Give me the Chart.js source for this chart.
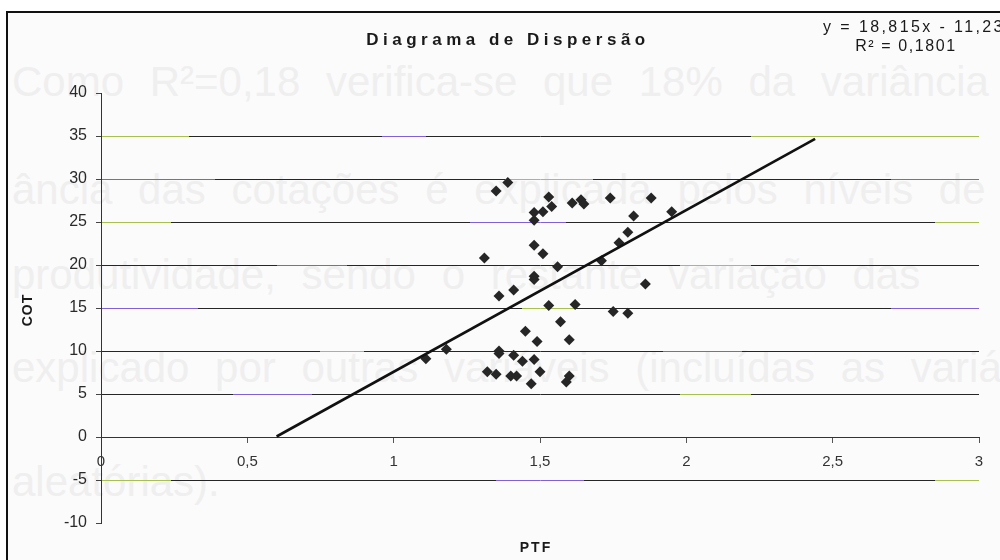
<!DOCTYPE html>
<html>
<head>
<meta charset="utf-8">
<script src="https://cdn.jsdelivr.net/npm/chart.js@4.4.1/dist/chart.umd.min.js"></script>
<style>
  html, body { margin: 0; padding: 0; background: #fff; }
  #wrap { position: relative; width: 1000px; height: 560px; overflow: hidden; }
  #frame { position: absolute; left: 6px; top: 11px; width: 1100px; height: 700px;
           border: 2px solid #111; background: #fbfbfb; }
  .ghost { position: absolute; left: 12px; font: 42px "Liberation Sans", Arial, sans-serif; color: #efefef;
           line-height: 42px; white-space: nowrap; word-spacing: 14px; }
  #chart { position: absolute; left: 0; top: 0; }
</style>
</head>
<body>
<div id="wrap">
  <div id="frame"></div>
  <div class="ghost" style="top:61px">Como R²=0,18 verifica-se que 18% da variância</div>
  <div class="ghost" style="top:169px">ância das cotações é explicada pelos níveis de</div>
  <div class="ghost" style="top:254px">produtividade, sendo o restante variação das</div>
  <div class="ghost" style="top:347px">explicado por outras variáveis (incluídas as variáveis</div>
  <div class="ghost" style="top:461px">aleatórias).</div>
  <canvas id="chart" width="1000" height="560"></canvas>
</div>
<script>
// PTF (x) and COT (y)
var ptf = [1.39, 1.35, 1.53, 1.61, 1.64, 1.65, 1.74, 1.88, 1.54, 1.51,
           1.48, 1.48, 1.82, 1.95, 1.80, 1.77, 1.48, 1.51, 1.31, 1.71,
           1.56, 1.48, 1.48, 1.86, 1.41, 1.36, 1.53, 1.62, 1.75, 1.80,
           1.57, 1.45, 1.49, 1.60, 1.18, 1.11, 1.36, 1.36, 1.41, 1.44,
           1.48, 1.32, 1.35, 1.40, 1.42, 1.50, 1.47, 1.60, 1.59];
var cot = [29.6, 28.6, 27.9, 27.2, 27.6, 27.1, 27.8, 27.8, 26.8, 26.2,
           26.1, 25.2, 25.7, 26.2, 23.8, 22.6, 22.3, 21.3, 20.8, 20.5,
           19.8, 18.7, 18.3, 17.8, 17.1, 16.4, 15.3, 15.4, 14.6, 14.4,
           13.4, 12.3, 11.1, 11.3, 10.2, 9.1, 10.0, 9.7, 9.5, 8.8,
           9.0, 7.6, 7.3, 7.1, 7.1, 7.6, 6.2, 7.1, 6.4];

// linear trend line as printed on the chart
var slope = 18.815;
var intercept = -11.23;
var trendX = [0.6, 2.44];

var xTickLabels = ['0', '0,5', '1', '1,5', '2', '2,5', '3'];
var yTickLabels = ['-10', '-5', '0', '5', '10', '15', '20', '25', '30', '35', '40'];

var FONT = '"Liberation Sans", Arial, sans-serif';

// scanned grid lines: black with short colour streaks [from, to, colour]
var BK = '#262626', PU = '#8060d8', GR = '#a8c050';
var gridStreaks = {
  '35': [[0, 0.1, GR], [0.32, 0.37, PU], [0.74, 1, GR]],
  '30': [[0, 0.13, PU], [0.46, 0.56, GR], [0.9, 1, PU]],
  '25': [[0, 0.08, GR], [0.42, 0.53, PU], [0.95, 1, GR]],
  '20': [[0.2, 0.28, PU], [0.66, 0.74, GR]],
  '15': [[0, 0.11, PU], [0.48, 0.54, GR], [0.9, 1, PU]],
  '10': [[0.25, 0.3, GR], [0.64, 0.73, PU]],
  '5':  [[0.15, 0.24, PU], [0.66, 0.74, GR]],
  '0':  [[0, 0.12, PU], [0.46, 0.6, GR]],
  '-5': [[0, 0.08, GR], [0.45, 0.55, PU], [0.95, 1, GR]]
};

function gridColor(ctx) {
  if (!ctx.tick) return BK;
  var streaks = gridStreaks[String(ctx.tick.value)];
  if (!streaks) return 'rgba(0,0,0,0)';
  var g = ctx.chart.ctx.createLinearGradient(101, 0, 979, 0);
  g.addColorStop(0, BK);
  streaks.forEach(function (s) {
    g.addColorStop(s[0], BK); g.addColorStop(s[0], s[2]);
    g.addColorStop(s[1], s[2]); g.addColorStop(s[1], BK);
  });
  g.addColorStop(1, BK);
  return g;
}

var points = ptf.map(function (x, i) { return { x: x, y: cot[i] }; });
var trend = trendX.map(function (x) { return { x: x, y: slope * x + intercept }; });

var overlay = {
  id: 'overlay',
  afterDraw: function (chart) {
    var c = chart.ctx;
    c.save();
    c.fillStyle = '#1a1a1a';
    c.textBaseline = 'middle';
    c.textAlign = 'center';

    c.letterSpacing = '4.5px';
    c.font = 'bold 17px ' + FONT;
    c.fillText('Diagrama de Dispersão', 508, 40);

    c.letterSpacing = '2.4px';
    c.font = '16px ' + FONT;
    c.fillText('y = 18,815x - 11,23', 914, 28);
    c.letterSpacing = '1.6px';
    c.fillText('R² = 0,1801', 906, 47);

    c.letterSpacing = '2px';
    c.font = 'bold 14px ' + FONT;
    c.fillText('PTF', 536, 548);

    c.letterSpacing = '1px';
    c.translate(28, 310);
    c.rotate(-Math.PI / 2);
    c.fillText('COT', 0, 0);
    c.restore();
  }
};

new Chart(document.getElementById('chart').getContext('2d'), {
  data: {
    datasets: [{
      type: 'line',
      label: 'Tendência',
      data: trend,
      borderColor: '#111',
      borderWidth: 2.6,
      pointRadius: 0,
      fill: false,
      order: 0
    }, {
      type: 'scatter',
      label: 'COT x PTF',
      data: points,
      pointStyle: 'rectRot',
      pointRadius: 5.5,
      backgroundColor: '#262626',
      borderColor: '#262626',
      borderWidth: 0,
      order: 1
    }]
  },
  options: {
    responsive: false,
    animation: false,
    devicePixelRatio: 1,
    layout: { padding: { top: 93, right: 21, bottom: 37, left: 0 } },
    plugins: { legend: { display: false }, tooltip: { enabled: false }, title: { display: false } },
    scales: {
      x: {
        type: 'linear',
        position: { y: 0 },
        min: 0, max: 3,
        ticks: {
          stepSize: 0.5, autoSkip: false, maxRotation: 0, padding: 11,
          color: '#333', font: { family: FONT, size: 15 },
          callback: function (v, i) { return xTickLabels[i]; }
        },
        grid: { display: true, drawOnChartArea: false, drawTicks: true, tickLength: 5, tickColor: '#555' },
        border: { display: true, color: '#333', width: 1 }
      },
      y: {
        type: 'linear',
        position: 'left',
        min: -10, max: 40,
        afterFit: function (scale) { scale.width = 101; },
        ticks: {
          stepSize: 5, padding: 9, color: '#2a2a2a', font: { family: FONT, size: 16 },
          callback: function (v, i) { return yTickLabels[i]; }
        },
        grid: { color: gridColor, lineWidth: 1, tickLength: 5, tickColor: '#444' },
        border: { display: true, color: '#333', width: 1 }
      }
    }
  },
  plugins: [overlay]
});
</script>
</body>
</html>
